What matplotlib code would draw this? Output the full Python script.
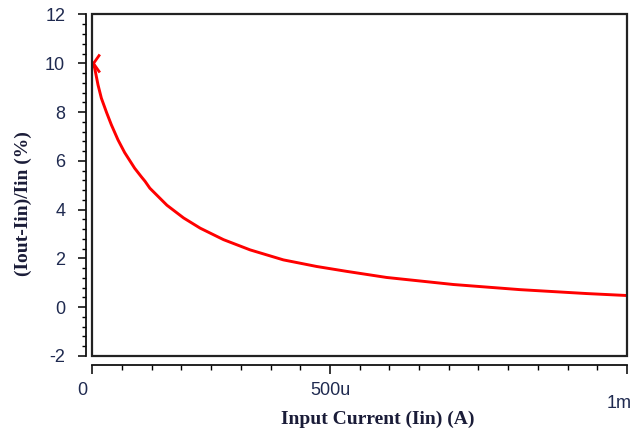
import matplotlib

matplotlib.use("Agg")
import matplotlib.pyplot as plt
from matplotlib.patches import Rectangle
from matplotlib.path import Path
from matplotlib.ticker import MultipleLocator, FixedLocator

# values (x in microamps, y in percent)
iin_ua = [2, 5, 12, 19, 30, 40, 54, 68, 89, 103, 111, 121, 139, 157, 192,
          227, 276, 332, 402, 472, 535, 619, 760, 900, 1040, 1124]
err_pct = [10.0, 9.80, 9.11, 8.57, 7.98, 7.48, 6.86, 6.34, 5.70, 5.35, 5.16,
           4.88, 4.53, 4.18, 3.66, 3.24, 2.77, 2.35, 1.94, 1.67, 1.47, 1.22,
           0.93, 0.72, 0.56, 0.48]
y_ticks = [-2, 0, 2, 4, 6, 8, 10, 12]
x_end = 1125e-6

TICK_FONT = ["Liberation Sans Narrow", "Liberation Sans", "DejaVu Sans"]
TICK_COLOR = "#1f2a50"
LABEL_COLOR = "#1a1c38"

plt.rcParams["axes.unicode_minus"] = False

iin = [v * 1e-6 for v in iin_ua]

fig = plt.figure(figsize=(6.35, 4.30), dpi=100)
ax = fig.add_axes([0.1454, 0.1721, 0.8420, 0.7942])

ax.plot(iin, err_pct, color="#ff0000", linewidth=2.1)
# cursor chevron at the first sample
chevron = Path([(0.7, 1.0), (0.0, 0.0), (0.7, -1.0)],
               [Path.MOVETO, Path.LINETO, Path.LINETO])
ax.plot(iin[:1], err_pct[:1], marker=chevron, color="#ff0000",
        markerfacecolor="none", markersize=13, markeredgewidth=2.0,
        linestyle="none", clip_on=False)

ax.set_xlim(0, x_end)
ax.set_ylim(-2, 12)

# frame drawn as a box, the real axes pushed outward like the simulator plot
ax.add_patch(Rectangle((0, 0), 1, 1, transform=ax.transAxes, fill=False,
                       edgecolor="#222222", linewidth=1.6, clip_on=False,
                       zorder=5))
for side in ("top", "right"):
    ax.spines[side].set_visible(False)
ax.spines["left"].set_position(("outward", 4.5))
ax.spines["bottom"].set_position(("outward", 6.5))
for side in ("left", "bottom"):
    ax.spines[side].set_linewidth(1.3)
    ax.spines[side].set_color("#111111")

ax.yaxis.set_major_locator(FixedLocator(y_ticks))
ax.yaxis.set_minor_locator(MultipleLocator(0.4))
ax.tick_params(axis="y", which="major", length=6, width=1.1, pad=9,
               labelsize=13, labelcolor=TICK_COLOR)
ax.tick_params(axis="y", which="minor", length=3, width=1.0)
for lab in ax.get_yticklabels():
    lab.set_family(TICK_FONT)

ax.xaxis.set_major_locator(FixedLocator([0, 500e-6, x_end]))
ax.xaxis.set_minor_locator(MultipleLocator(62.5e-6))
ax.set_xticklabels(["", "500u", ""])
ax.tick_params(axis="x", which="major", length=6.5, width=1.1, pad=6,
               labelsize=13, labelcolor=TICK_COLOR)
ax.tick_params(axis="x", which="minor", length=3.6, width=1.0)
for lab in ax.get_xticklabels():
    lab.set_family(TICK_FONT)

# range labels at both ends of the x axis
ax.annotate("0", xy=(0, 0), xycoords=("data", "axes fraction"),
            xytext=(-7, -19), textcoords="offset points", ha="center",
            va="top", fontsize=13, color=TICK_COLOR, family=TICK_FONT)
ax.annotate("1m", xy=(x_end, 0), xycoords=("data", "axes fraction"),
            xytext=(-6, -28), textcoords="offset points", ha="center",
            va="top", fontsize=13, color=TICK_COLOR, family=TICK_FONT)

ax.set_xlabel("Input Current (Iin) (A)", family="Liberation Serif",
              fontweight="bold", fontsize=14, color=LABEL_COLOR)
ax.xaxis.set_label_coords(0.534, -0.16)
ax.set_ylabel("(Iout-Iin)/Iin (%)", family="Liberation Serif",
              fontweight="bold", fontsize=14, color=LABEL_COLOR)
ax.yaxis.set_label_coords(-0.113, 0.445)

fig.savefig("out.png", dpi=100)
plt.close(fig)
